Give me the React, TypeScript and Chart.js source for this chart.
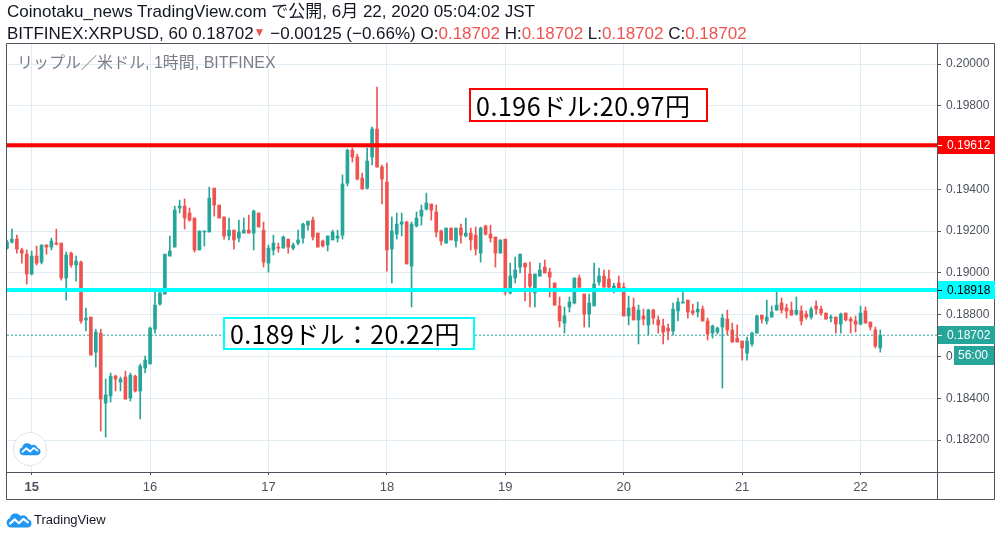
import { useEffect, useRef } from 'react'
import { Chart, registerables, type ChartConfiguration } from 'chart.js'

Chart.register(...registerables)

// hourly candles, index 0 = 14日 19:00, index 5 = 15日 00:00
const OPEN = [
  0.19119, 0.19148, 0.19162, 0.1911, 0.1909, 0.18995, 0.19081, 0.19052, 0.19134, 0.19124, 0.19143, 0.19143,
  0.18976, 0.19095, 0.19038, 0.19052, 0.18775, 0.18789, 0.18621, 0.18712, 0.18377, 0.18411, 0.18506, 0.18478,
  0.18502, 0.18401, 0.18506, 0.18435, 0.18545, 0.18564, 0.18731, 0.18851, 0.18899, 0.19081, 0.19124, 0.19311,
  0.1932, 0.19287, 0.19263, 0.1911, 0.19196, 0.19196, 0.19406, 0.19325, 0.19268, 0.19177, 0.19205, 0.19167,
  0.19191, 0.19205, 0.19191, 0.19287, 0.19205, 0.19047, 0.1911, 0.19124, 0.19119, 0.19162, 0.19119, 0.19143,
  0.19167, 0.19229, 0.19253, 0.19191, 0.19153, 0.19134, 0.19158, 0.19167, 0.19181, 0.1943, 0.19588, 0.19555,
  0.19454, 0.19406, 0.19555, 0.19689, 0.19507, 0.19435, 0.19114, 0.19186, 0.19234, 0.19244, 0.19033, 0.19225,
  0.19272, 0.19306, 0.1933, 0.19292, 0.19201, 0.19143, 0.19215, 0.19153, 0.19215, 0.19177, 0.19191, 0.19181,
  0.19095, 0.19225, 0.19186, 0.19172, 0.19095, 0.19162, 0.18904, 0.18976, 0.19028, 0.19047, 0.18995, 0.18904,
  0.18985, 0.19028, 0.19004, 0.18952, 0.18842, 0.1876, 0.18837, 0.18856, 0.18976, 0.18899, 0.18803, 0.18842,
  0.18956, 0.18985, 0.18971, 0.18928, 0.18952, 0.18932, 0.18794, 0.18837, 0.18775, 0.18794, 0.18751, 0.18822,
  0.18775, 0.18746, 0.18736, 0.18722, 0.18818, 0.18856, 0.1887, 0.18818, 0.18813, 0.18827, 0.1877, 0.18712,
  0.18717, 0.18741, 0.18779, 0.18727, 0.18688, 0.18674, 0.18616, 0.1866, 0.18712, 0.18798, 0.1877, 0.18789,
  0.18822, 0.18856, 0.18832, 0.18822, 0.18803, 0.18818, 0.18803, 0.18789, 0.18842, 0.18827, 0.18808, 0.18784,
  0.18789, 0.18755, 0.18808, 0.18779, 0.1877, 0.18755, 0.18818, 0.18765, 0.18727, 0.18641,
]
const HIGH = [
  0.19158, 0.1921, 0.19181, 0.19119, 0.1911, 0.19105, 0.19129, 0.19134, 0.19134, 0.19167, 0.1921, 0.19143,
  0.191, 0.191, 0.19081, 0.19057, 0.18832, 0.18789, 0.18731, 0.18731, 0.18492, 0.18521, 0.18511, 0.18502,
  0.1853, 0.18521, 0.18511, 0.18564, 0.18602, 0.18741, 0.18908, 0.18908, 0.1909, 0.19177, 0.1932, 0.19349,
  0.19354, 0.19311, 0.19263, 0.19201, 0.19201, 0.19411, 0.19406, 0.19325, 0.19268, 0.19263, 0.19205, 0.19253,
  0.19263, 0.19277, 0.19301, 0.19287, 0.19244, 0.19134, 0.19181, 0.19143, 0.19177, 0.19162, 0.19143, 0.19205,
  0.19239, 0.19248, 0.19268, 0.19191, 0.19158, 0.19177, 0.19205, 0.19205, 0.19469, 0.19593, 0.19598, 0.19569,
  0.19478, 0.19598, 0.19698, 0.1989, 0.19517, 0.19526, 0.19268, 0.19287, 0.19287, 0.19248, 0.19244, 0.19292,
  0.19325, 0.19382, 0.1933, 0.19325, 0.19205, 0.19215, 0.19215, 0.19215, 0.19234, 0.19263, 0.19215, 0.1922,
  0.1922, 0.19229, 0.19229, 0.19172, 0.19158, 0.19162, 0.19047, 0.19076, 0.1909, 0.19047, 0.19052, 0.18995,
  0.19047, 0.19062, 0.19023, 0.18952, 0.18885, 0.18837, 0.18885, 0.18976, 0.1899, 0.18899, 0.18899, 0.19047,
  0.19023, 0.19014, 0.19014, 0.18952, 0.18985, 0.18952, 0.18889, 0.1888, 0.18846, 0.18827, 0.18827, 0.18827,
  0.18794, 0.18779, 0.18755, 0.18856, 0.1888, 0.18913, 0.1887, 0.18851, 0.18861, 0.18842, 0.18784, 0.18751,
  0.18741, 0.18803, 0.18822, 0.1876, 0.18751, 0.18674, 0.18693, 0.18717, 0.18798, 0.18798, 0.1887, 0.18842,
  0.18908, 0.1888, 0.18851, 0.18861, 0.18885, 0.18842, 0.18818, 0.18837, 0.18866, 0.18842, 0.18808, 0.18798,
  0.18789, 0.18808, 0.18808, 0.18789, 0.18794, 0.18842, 0.18837, 0.18765, 0.18741, 0.18727,
]
const LOW = [
  0.19114, 0.19143, 0.19095, 0.19047, 0.18947, 0.1899, 0.19038, 0.19043, 0.1909, 0.1911, 0.19134, 0.18966,
  0.1887, 0.19028, 0.18961, 0.1876, 0.18722, 0.18607, 0.1855, 0.18243, 0.18214, 0.18382, 0.18435, 0.18435,
  0.18396, 0.18387, 0.1843, 0.18301, 0.18521, 0.18564, 0.18712, 0.18846, 0.18899, 0.19081, 0.19124, 0.19287,
  0.1921, 0.19248, 0.191, 0.1911, 0.19129, 0.19196, 0.19272, 0.19263, 0.19162, 0.19158, 0.19114, 0.19148,
  0.19191, 0.19191, 0.1911, 0.1922, 0.19028, 0.19004, 0.19086, 0.191, 0.19119, 0.19095, 0.1911, 0.19134,
  0.19143, 0.19205, 0.19158, 0.19124, 0.19124, 0.19105, 0.19158, 0.19148, 0.19162, 0.19416, 0.19531, 0.19445,
  0.19402, 0.19402, 0.19517, 0.19507, 0.1933, 0.19009, 0.18952, 0.19162, 0.19177, 0.19043, 0.18837, 0.1922,
  0.19229, 0.19301, 0.19253, 0.19172, 0.19134, 0.19143, 0.19158, 0.19124, 0.19143, 0.19172, 0.1911, 0.19086,
  0.19052, 0.19181, 0.19148, 0.19028, 0.19095, 0.18894, 0.18899, 0.18952, 0.19, 0.18866, 0.18837, 0.18837,
  0.18985, 0.19, 0.18885, 0.18846, 0.18741, 0.18712, 0.18813, 0.18851, 0.18928, 0.18741, 0.18741, 0.18842,
  0.18942, 0.18932, 0.18928, 0.18904, 0.18923, 0.18794, 0.18751, 0.18775, 0.1866, 0.18751, 0.18703, 0.18755,
  0.18712, 0.1866, 0.18679, 0.18703, 0.1877, 0.18856, 0.18784, 0.18798, 0.18789, 0.1877, 0.18679, 0.18688,
  0.18708, 0.18449, 0.18703, 0.18669, 0.18669, 0.18583, 0.18583, 0.1865, 0.18712, 0.1876, 0.18755, 0.18789,
  0.18822, 0.18808, 0.18784, 0.18798, 0.18798, 0.18751, 0.18779, 0.18779, 0.18803, 0.18798, 0.18779, 0.18765,
  0.18712, 0.18712, 0.1877, 0.18712, 0.18717, 0.18751, 0.1876, 0.18727, 0.18641, 0.18621,
]
const CLOSE = [
  0.19148, 0.19162, 0.19114, 0.19095, 0.18995, 0.19081, 0.19047, 0.19134, 0.19124, 0.19153, 0.19138, 0.18976,
  0.19086, 0.19038, 0.19057, 0.1877, 0.18784, 0.18607, 0.18717, 0.18396, 0.18416, 0.18506, 0.18492, 0.18492,
  0.18396, 0.18511, 0.18435, 0.18554, 0.18583, 0.18736, 0.18846, 0.18904, 0.1909, 0.19105, 0.19301, 0.1932,
  0.19263, 0.19253, 0.1911, 0.19201, 0.19201, 0.19358, 0.19325, 0.19263, 0.19177, 0.19205, 0.19158, 0.19196,
  0.19205, 0.19191, 0.19296, 0.1922, 0.19052, 0.19119, 0.19143, 0.19119, 0.19172, 0.19124, 0.19134, 0.19158,
  0.19234, 0.19248, 0.19172, 0.19124, 0.19129, 0.19177, 0.19196, 0.19177, 0.19426, 0.19588, 0.19555, 0.1945,
  0.19402, 0.19536, 0.19689, 0.19507, 0.1945, 0.1911, 0.19201, 0.19234, 0.19244, 0.19043, 0.19234, 0.19263,
  0.19301, 0.19335, 0.19301, 0.19196, 0.19153, 0.19215, 0.19158, 0.19215, 0.19181, 0.19191, 0.19158, 0.19114,
  0.19215, 0.19186, 0.19167, 0.19095, 0.19158, 0.18908, 0.18985, 0.19014, 0.1909, 0.19028, 0.18937, 0.18995,
  0.19014, 0.19, 0.1898, 0.18846, 0.1877, 0.18794, 0.18861, 0.18976, 0.18932, 0.18803, 0.18856, 0.18947,
  0.18985, 0.18932, 0.18932, 0.18937, 0.18928, 0.18794, 0.18832, 0.18775, 0.18822, 0.18779, 0.18822, 0.18784,
  0.18751, 0.18717, 0.18722, 0.18827, 0.18861, 0.18861, 0.18813, 0.18808, 0.18827, 0.1877, 0.18708, 0.18746,
  0.18736, 0.18784, 0.18727, 0.18669, 0.18669, 0.18641, 0.18674, 0.18712, 0.18794, 0.18779, 0.18789, 0.18813,
  0.18846, 0.18822, 0.18818, 0.18798, 0.18822, 0.1877, 0.18789, 0.18827, 0.18827, 0.18808, 0.18779, 0.18789,
  0.18755, 0.18803, 0.18775, 0.1877, 0.18755, 0.18808, 0.1876, 0.18741, 0.1865, 0.18702,
]

const DAY_TICKS = [5, 29, 53, 77, 101, 125, 149, 173]
const DAY_LABELS = ['15', '16', '17', '18', '19', '20', '21', '22']
const PRICE_TICKS = [0.182, 0.184, 0.186, 0.188, 0.19, 0.192, 0.194, 0.196, 0.198, 0.2]

const RESISTANCE = 0.19612
const SUPPORT = 0.18918
const LAST = 0.18702
const COUNTDOWN = '56:00'

const X_MIN = 0
const X_MAX = 188.5
const Y_MIN = 0.18047
const Y_MAX = 0.20101

const GREEN = '#26a69a'
const RED = '#ef5350'
const GRID = '#e1ecf2'
const FRAME = '#50535e'
const TEXT = '#4c525e'
const FONT = "'Liberation Sans', 'Noto Sans CJK JP', sans-serif"
const JP_FONT = "'Noto Sans CJK JP', 'Liberation Sans', sans-serif"

const tvOverlay = {
  id: 'tvOverlay',
  afterDraw(chart: Chart) {
    const { ctx, chartArea: a } = chart
    const ys = chart.scales.y
    const xs = chart.scales.x
    const right = ys.right
    const bottom = xs.bottom

    ctx.save()
    ctx.strokeStyle = FRAME
    ctx.lineWidth = 1
    ctx.beginPath()
    ctx.rect(a.left - 0.5, a.top + 0.5, right - a.left, bottom - a.top - 1)
    ctx.moveTo(a.left, a.bottom + 0.5)
    ctx.lineTo(right, a.bottom + 0.5)
    ctx.moveTo(a.right + 0.5, a.top)
    ctx.lineTo(a.right + 0.5, bottom)
    ctx.stroke()

    ctx.font = `12px ${FONT}`
    ctx.textBaseline = 'middle'
    const tag = (value: number, bg: string, fg: string) => {
      const py = Math.round(ys.getPixelForValue(value))
      ctx.fillStyle = bg
      ctx.fillRect(a.right + 1, py - 9, right - a.right - 1, 18)
      ctx.fillStyle = fg
      ctx.fillRect(a.right + 1, py, 4, 1)
      ctx.fillText(value.toFixed(5), a.right + 10, py + 0.5)
      return py
    }
    tag(RESISTANCE, '#ff0000', '#ffffff')
    tag(SUPPORT, '#00ffff', '#000000')
    const py = tag(LAST, GREEN, '#ffffff')

    ctx.fillStyle = GREEN
    ctx.fillRect(right - 41, py + 11, 40, 19)
    ctx.fillStyle = '#ffffff'
    ctx.fillText(COUNTDOWN, right - 37, py + 21)
    ctx.restore()
  },
}

function TvLogo({ size }: { size: number }) {
  return (
    <svg width={size} height={size * 0.6} viewBox="0 0 30 18">
      <path
        d="M6 18 A5.5 5.5 0 0 1 4.5 7.3 A7 7 0 0 1 17 4.5 A6 6 0 0 1 25.5 8.5 A4.8 4.8 0 0 1 25 18 Z"
        fill="#2196f3"
      />
      <polyline
        points="4,14 10,8.5 15,13 20,8 26,12.5"
        fill="none"
        stroke="#ffffff"
        strokeWidth="2.4"
        strokeLinejoin="round"
      />
    </svg>
  )
}

export default function App() {
  const canvasRef = useRef<HTMLCanvasElement | null>(null)
  const chartRef = useRef<Chart | null>(null)

  useEffect(() => {
    if (!canvasRef.current) return
    const colors = CLOSE.map((c, i) => (c >= OPEN[i] ? GREEN : RED))
    const level = (v: number) => [
      { x: X_MIN, y: v },
      { x: X_MAX, y: v },
    ]

    const config: ChartConfiguration = {
      type: 'bar',
      data: {
        datasets: [
          {
            type: 'line',
            data: level(RESISTANCE),
            borderColor: '#ff0000',
            borderWidth: 4,
            pointRadius: 0,
            order: 0,
          },
          {
            type: 'line',
            data: level(SUPPORT),
            borderColor: '#00ffff',
            borderWidth: 4,
            pointRadius: 0,
            order: 0,
          },
          {
            type: 'bar',
            data: OPEN.map((o, i) => ({ x: i, y: [o, CLOSE[i]] })),
            backgroundColor: colors,
            barThickness: 3,
            minBarLength: 1,
            grouped: false,
            order: 1,
          },
          {
            type: 'bar',
            data: HIGH.map((h, i) => ({ x: i, y: [LOW[i], h] })),
            backgroundColor: colors,
            barThickness: 1,
            grouped: false,
            order: 2,
          },
          {
            type: 'line',
            data: level(LAST),
            borderColor: GREEN,
            borderWidth: 1,
            borderDash: [2, 2],
            pointRadius: 0,
            order: 3,
          },
        ] as any,
      },
      options: {
        responsive: false,
        animation: false,
        devicePixelRatio: 1,
        events: [],
        layout: { padding: { left: 7, right: 7, top: 43, bottom: 37 } },
        scales: {
          x: {
            type: 'linear',
            min: X_MIN,
            max: X_MAX,
            offset: false,
            afterFit: (s: any) => {
              s.height = 28
            },
            afterBuildTicks: (s: any) => {
              s.ticks = DAY_TICKS.map(value => ({ value }))
            },
            grid: { color: GRID, tickColor: FRAME, tickLength: 3, offset: false },
            border: { display: false },
            ticks: {
              autoSkip: false,
              maxRotation: 0,
              padding: 5,
              color: TEXT,
              font: (c: any) => ({ family: FONT, size: 13, weight: c.index === 0 ? 'bold' : 'normal' }),
              callback: (_v: any, i: number) => DAY_LABELS[i],
            },
          },
          y: {
            type: 'linear',
            position: 'right',
            min: Y_MIN,
            max: Y_MAX,
            afterFit: (s: any) => {
              s.width = 58
            },
            afterBuildTicks: (s: any) => {
              s.ticks = PRICE_TICKS.map(value => ({ value }))
            },
            grid: { color: GRID, tickColor: FRAME, tickLength: 4 },
            border: { display: false },
            ticks: {
              padding: 5,
              color: TEXT,
              font: { family: FONT, size: 12 },
              callback: (v: any) => Number(v).toFixed(5),
            },
          },
        },
        plugins: { legend: { display: false }, tooltip: { enabled: false } },
      },
      plugins: [tvOverlay],
    }

    chartRef.current = new Chart(canvasRef.current, config)
    return () => chartRef.current?.destroy()
  }, [])

  const red = { color: RED }

  return (
    <div
      style={{
        position: 'fixed',
        left: 0,
        top: 0,
        width: 1002,
        height: 537,
        background: '#ffffff',
        fontFamily: FONT,
        color: '#131722',
        overflow: 'hidden',
      }}
    >
      <canvas
        ref={canvasRef}
        width={1002}
        height={537}
        style={{ position: 'absolute', left: 0, top: 0, width: 1002, height: 537 }}
        role="img"
        aria-label="XRPUSD 1時間足 ローソク足チャート"
      />
      <div style={{ position: 'absolute', left: 7, top: 2, fontSize: 17, lineHeight: '20px', whiteSpace: 'nowrap' }}>
        Coinotaku_news TradingView.com で公開, 6月 22, 2020 05:04:02 JST
      </div>
      <div style={{ position: 'absolute', left: 7, top: 22, fontSize: 17, lineHeight: '20px', whiteSpace: 'nowrap' }}>
        BITFINEX:XRPUSD, 60 0.18702<span style={{ color: RED, fontSize: 12, verticalAlign: 3 }}>▼</span> −0.00125
        (−0.66%) O:<span style={red}>0.18702</span> H:<span style={red}>0.18702</span> L:
        <span style={red}>0.18702</span> C:<span style={red}>0.18702</span>
      </div>
      <div
        style={{
          position: 'absolute',
          left: 17,
          top: 53,
          fontSize: 16,
          lineHeight: '20px',
          color: '#7b7e87',
          whiteSpace: 'nowrap',
        }}
      >
        リップル／米ドル, 1時間, BITFINEX
      </div>
      <div
        style={{
          position: 'absolute',
          left: 469,
          top: 88,
          width: 239,
          height: 34,
          boxSizing: 'border-box',
          border: '2px solid #ff0000',
          background: '#ffffff',
          fontFamily: JP_FONT,
          fontSize: 25,
          letterSpacing: 0.55,
          lineHeight: '30px',
          paddingLeft: 5,
          color: '#000000',
          whiteSpace: 'nowrap',
        }}
      >
        0.196ドル:20.97円
      </div>
      <div
        style={{
          position: 'absolute',
          left: 223,
          top: 317,
          width: 252,
          height: 33,
          boxSizing: 'border-box',
          border: '2px solid #00ffff',
          background: '#ffffff',
          fontFamily: JP_FONT,
          fontSize: 25,
          letterSpacing: 0.35,
          lineHeight: '29px',
          paddingLeft: 5,
          color: '#000000',
          whiteSpace: 'nowrap',
        }}
      >
        0.189ドル：20.22円
      </div>
      <div
        style={{
          position: 'absolute',
          left: 13,
          top: 432,
          width: 34,
          height: 34,
          boxSizing: 'border-box',
          borderRadius: '50%',
          border: '1px solid #e0e3eb',
          background: '#ffffff',
          display: 'flex',
          alignItems: 'center',
          justifyContent: 'center',
        }}
      >
        <TvLogo size={22} />
      </div>
      <div style={{ position: 'absolute', left: 6, top: 512, display: 'flex', alignItems: 'center' }}>
        <TvLogo size={26} />
        <span style={{ fontSize: 13, marginLeft: 2, color: '#131722' }}>TradingView</span>
      </div>
    </div>
  )
}
